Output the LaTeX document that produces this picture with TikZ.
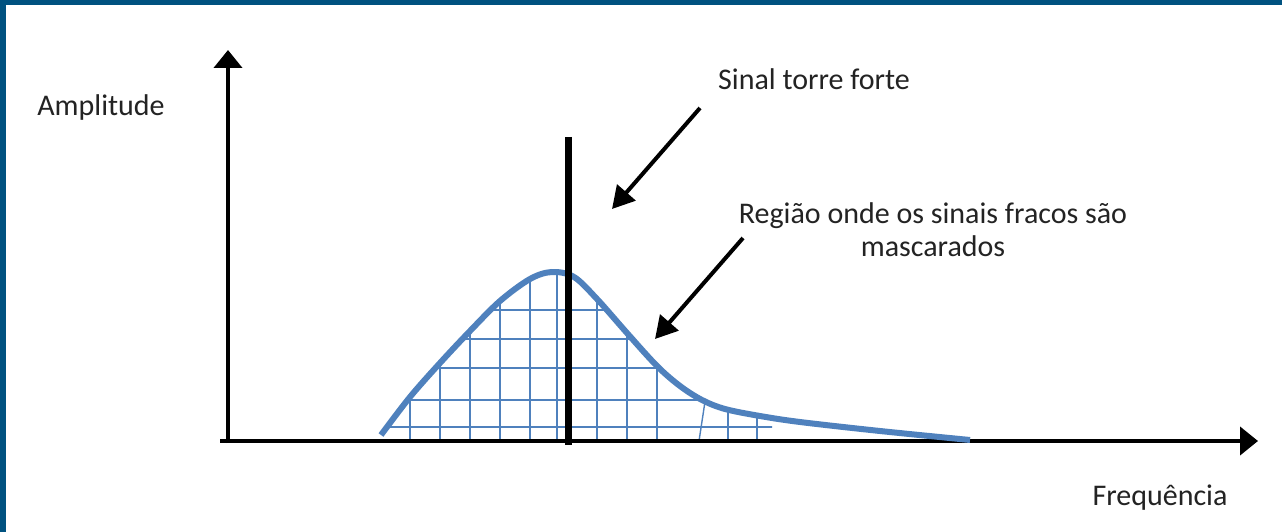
\documentclass[tikz,border=0pt]{standalone}
\usepackage{fontspec}
\setmainfont{Carlito}
\usetikzlibrary{arrows.meta}
\definecolor{frame}{RGB}{0,82,128}
\definecolor{curveblue}{RGB}{79,129,189}
\definecolor{txt}{RGB}{35,35,35}
\tikzset{
  lbl/.style={text=txt, font=\fontsize{30}{33}\selectfont, inner sep=0pt, align=center},
  axis/.style={line width=4pt, -{Triangle[length=18pt,width=28pt]}},
  pointer/.style={line width=4pt, -{Triangle[length=22pt,width=24pt]}},
  hatch/.style={curveblue, line width=1.4pt}
}
\begin{document}
\begin{tikzpicture}[x=1pt,y=-1pt]
\useasboundingbox (0,0) rectangle (1282,532);
\fill[white] (0,0) rectangle (1282,532);
\fill[frame] (0,0) rectangle (1282,5);
\fill[frame] (0,0) rectangle (6,532);
% grid hatch
\def\curvepath{(381,435) (410,397) (440,363) (470,331) (500,301) (530,279) (552,272) (574,277) (597,299) (627,333) (657,366) (680,386) (702,400) (725,409) (760,416) (800,422) (880,431) (970,440)}
\begin{scope}
  \clip plot[smooth,tension=0.55] coordinates {\curvepath} -- (970,441) -- (381,441) -- cycle;
  \clip (370,250) rectangle (772,441);
  \foreach \yy in {310,339,368,400,427}
    \draw[hatch] (370,\yy) -- (775,\yy);
  \foreach \xx in {410,440,470,500,530,557,597,627,657,728,757}
    \draw[hatch] (\xx,255) -- (\xx,441);
  \draw[hatch] (706,395) -- (699,441);
\end{scope}
% axes
\coordinate (ytip) at (228,50);
\coordinate (xtip) at (1258,441);
\draw[axis] (228,443) -- (ytip);
\draw[axis] (220,441) -- (xtip);
% curve
\draw[curveblue, line width=6pt] plot[smooth,tension=0.55] coordinates {\curvepath};
% strong signal line
\coordinate (sigtop) at (568,137);
\coordinate (sigbot) at (568,445);
\draw[line width=7pt] (sigtop) -- (sigbot);
% labels
\node[lbl] (amp) at (101,108) {Amplitude};
\node[lbl] (freq) at (1160,498) {Frequência};
\node[lbl] (sinal) at (814,79) {Sinal torre forte};
\node[lbl] (regiao) at (933,230) {Região onde os sinais fracos são\\mascarados};
% pointer arrows
\coordinate (a1s) at (700,108);
\coordinate (a1e) at (612,209);
\coordinate (a2s) at (743,238);
\coordinate (a2e) at (655,339);
\draw[pointer] (a1s) -- (a1e);
\draw[pointer] (a2s) -- (a2e);
\end{tikzpicture}
\end{document}
